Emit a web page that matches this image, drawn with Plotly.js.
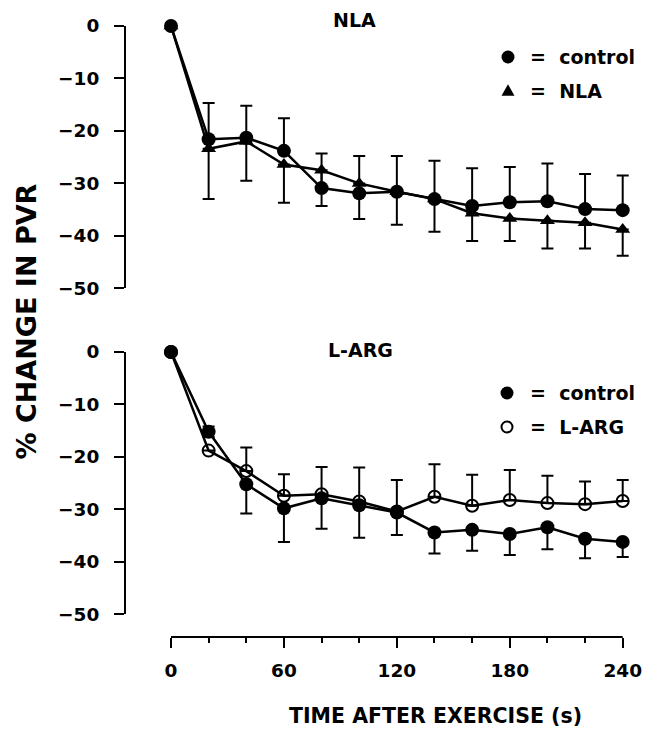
<!DOCTYPE html>
<html>
<head>
<meta charset="utf-8">
<script src="https://cdn.plot.ly/plotly-3.0.1.min.js"></script>
<style>html,body{margin:0;padding:0;background:#fff;}#chart{width:657px;height:729px;}</style>
</head>
<body>
<div id="chart"></div>
<script>
// ---- data ----
const time = [0, 20, 40, 60, 80, 100, 120, 140, 160, 180, 200, 220, 240];
const xTickVals = [0, 60, 120, 180, 240];
const xTickText = ['0', '60', '120', '180', '240'];
const yTickVals = [0, -10, -20, -30, -40, -50];

// top panel (NLA)
const nlaControl = [0, -21.6, -21.3, -23.8, -30.9, -31.9, -31.6, -33.0, -34.3, -33.6, -33.4, -34.9, -35.1];
const nlaControlErrUp = [0, 6.9, 6.1, 6.2, 6.6, 7.1, 6.8, 7.3, 7.2, 6.7, 7.2, 6.7, 6.6];
const nlaTreated = [0, -23.4, -22.0, -26.4, -27.5, -30.0, -31.6, -33.0, -35.7, -36.7, -37.1, -37.5, -38.8];
const nlaTreatedErrDown = [0, 9.6, 7.5, 7.3, 6.8, 6.8, 6.3, 6.2, 5.3, 4.3, 5.3, 4.9, 5.0];

// bottom panel (L-ARG)
const largControl = [0, -15.2, -25.2, -29.8, -27.9, -29.2, -30.6, -34.4, -33.9, -34.7, -33.4, -35.6, -36.2];
const largControlErrUp = [0, 1.0, 0, 0, 0, 0, 0, 0, 0, 0, 0, 0, 0];
const largControlErrDown = [0, 1.0, 5.6, 6.4, 5.8, 6.2, 4.3, 4.0, 4.0, 4.0, 4.2, 3.7, 2.9];
const largTreated = [0, -18.8, -22.7, -27.4, -27.1, -28.5, -30.4, -27.6, -29.3, -28.2, -28.8, -29.0, -28.4];
const largTreatedErrUp = [0, 0, 4.5, 4.1, 5.2, 6.5, 6.0, 6.2, 5.9, 5.7, 5.2, 4.3, 4.0];

const panelLabels = ['NLA', 'L-ARG'];
const legendTop = ['control', 'NLA'];
const legendBottom = ['control', 'L-ARG'];
const xTitle = 'TIME AFTER EXERCISE (s)';
const yTitle = '% CHANGE IN PVR';

// ---- layout helpers (pixel -> paper) ----
const W = 657, H = 729;
const px = v => v / W;
const py = v => 1 - v / H;
const FONT = 'DejaVu Sans';

// x scale: 0 -> 171px, 240 -> 622.7px ; range padded so caps at the ends are not clipped
const X0PX = 171, X240PX = 622.7, PAD = 6;
const pxPerUnit = (X240PX - X0PX) / 240;

const errStyle = {type: 'data', symmetric: false, color: 'black', thickness: 2, width: 6};
const lineStyle = {color: 'black', width: 2.5};

const traces = [
  {x: time, y: nlaTreated, xaxis: 'x', yaxis: 'y2', mode: 'lines+markers', name: 'NLA',
   line: lineStyle, marker: {symbol: 'triangle-up', size: 13, color: 'black'}, cliponaxis: false,
   error_y: Object.assign({}, errStyle, {array: nlaTreated.map(() => 0), arrayminus: nlaTreatedErrDown})},
  {x: time, y: nlaControl, xaxis: 'x', yaxis: 'y2', mode: 'lines+markers', name: 'control',
   line: lineStyle, marker: {symbol: 'circle', size: 14, color: 'black'}, cliponaxis: false,
   error_y: Object.assign({}, errStyle, {array: nlaControlErrUp, arrayminus: nlaControl.map(() => 0)})},
  {x: time, y: largTreated, xaxis: 'x', yaxis: 'y', mode: 'lines+markers', name: 'L-ARG',
   line: lineStyle, marker: {symbol: 'circle-open', size: 12, color: 'black', line: {width: 2, color: 'black'}}, cliponaxis: false,
   error_y: Object.assign({}, errStyle, {array: largTreatedErrUp, arrayminus: largTreated.map(() => 0)})},
  {x: time, y: largControl, xaxis: 'x', yaxis: 'y', mode: 'lines+markers', name: 'control',
   line: lineStyle, marker: {symbol: 'circle', size: 14, color: 'black'}, cliponaxis: false,
   error_y: Object.assign({}, errStyle, {array: largControlErrUp, arrayminus: largControlErrDown})}
];

const tickFont = {family: FONT, size: 18.5, color: 'black', weight: 'bold'};
const yAxisCommon = {
  range: [-50, 0], anchor: 'free', position: px(125), tickvals: yTickVals,
  showline: true, linewidth: 2, linecolor: 'black', ticks: 'outside', ticklen: 10, tickwidth: 2,
  tickcolor: 'black', showgrid: false, zeroline: false, tickfont: tickFont, ticklabelstandoff: 11,
  fixedrange: true
};

const legFont = {family: FONT, size: 19, color: 'black', weight: 'bold'};
function ann(text, x, y, opts) {
  return Object.assign({text: text, x: px(x), y: py(y), xref: 'paper', yref: 'paper',
    showarrow: false, font: legFont, xanchor: 'center', yanchor: 'middle'}, opts || {});
}

const annotations = [
  ann(panelLabels[0], 354, 20),
  ann(panelLabels[1], 360, 350),
  ann('=\u00a0\u00a0' + legendTop[0], 528, 57, {xanchor: 'left'}),
  ann('=\u00a0\u00a0' + legendTop[1], 528, 91, {xanchor: 'left'}),
  ann('=\u00a0\u00a0' + legendBottom[0], 528, 393, {xanchor: 'left'}),
  ann('=\u00a0\u00a0' + legendBottom[1], 528, 427, {xanchor: 'left'}),
  ann(yTitle, 26, 321.5, {textangle: -90, font: {family: FONT, size: 27, color: 'black', weight: 'bold'}}),
  ann(xTitle, 435, 716, {font: {family: FONT, size: 20.5, color: 'black', weight: 'bold'}})
];

function circ(cx, cy, r, filled) {
  return {type: 'circle', xref: 'paper', yref: 'paper',
    x0: px(cx - r), x1: px(cx + r), y0: py(cy + r), y1: py(cy - r),
    fillcolor: filled ? 'black' : 'rgba(0,0,0,0)', line: {color: 'black', width: filled ? 0 : 2}};
}
function tri(cx, cy, s) {
  const h = s * 0.9;
  return {type: 'path', xref: 'paper', yref: 'paper',
    path: 'M ' + px(cx - s / 2) + ' ' + py(cy + h / 2) + ' L ' + px(cx + s / 2) + ' ' + py(cy + h / 2) +
          ' L ' + px(cx) + ' ' + py(cy - h / 2) + ' Z',
    fillcolor: 'black', line: {color: 'black', width: 0}};
}
const shapes = [
  circ(508, 57, 6.5, true),
  tri(508, 90, 13),
  circ(507, 393, 6.5, true),
  circ(507, 427, 5.5, false),
  // x axis line spanning exactly the 0..240 tick range
  {type: 'line', xref: 'x', yref: 'paper', x0: xTickVals[0], x1: xTickVals[xTickVals.length - 1],
   y0: py(637), y1: py(637), line: {color: 'black', width: 2}}
];

const layout = {
  width: W, height: H, margin: {l: 0, r: 0, t: 0, b: 0},
  paper_bgcolor: 'white', plot_bgcolor: 'white', showlegend: false,
  font: {family: FONT, color: 'black'},
  xaxis: {
    domain: [px(X0PX - PAD * pxPerUnit), px(X240PX + PAD * pxPerUnit)], range: [-PAD, 240 + PAD],
    anchor: 'free', position: py(637),
    tickvals: xTickVals, ticktext: xTickText,
    showline: false, ticks: 'outside', ticklen: 10, tickwidth: 2,
    tickcolor: 'black', showgrid: false, zeroline: false, tickfont: tickFont, ticklabelstandoff: 7,
    minor: {tickvals: time, ticks: 'outside', ticklen: 5, tickwidth: 2, tickcolor: 'black', showgrid: false},
    fixedrange: true
  },
  yaxis: Object.assign({}, yAxisCommon, {domain: [py(614.3), py(352)]}),
  yaxis2: Object.assign({}, yAxisCommon, {domain: [py(288.3), py(26)]}),
  annotations: annotations,
  shapes: shapes
};

Plotly.newPlot('chart', traces, layout, {staticPlot: true, displayModeBar: false});
</script>
</body>
</html>
